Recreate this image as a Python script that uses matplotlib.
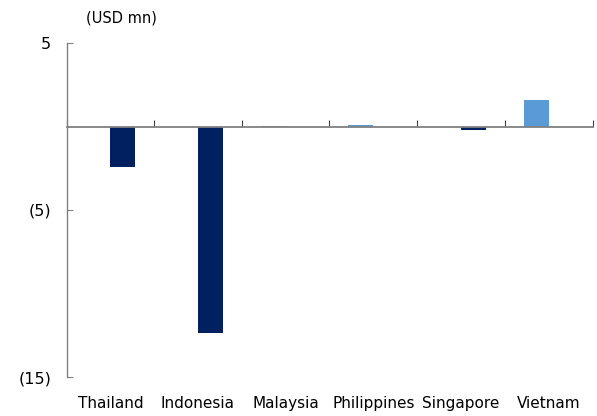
import matplotlib.pyplot as plt
import numpy as np

# Dados
paises = ['Thailand', 'Indonesia', 'Malaysia', 'Philippines', 'Singapore', 'Vietnam']
valores_pos = [0.0, 0.0, 0.03, 0.09, 0.0, 1.6]
valores_neg = [-2.45, -12.35, 0.0, 0.0, -0.2, 0.0]
y_ticks = [5, -5, -15]
y_labels = ['5', '(5)', '(15)']

cor_pos = '#5B9BD5'
cor_neg = '#002060'
cor_eixo = '#808080'

fig = plt.figure(figsize=(5.97, 4.16), dpi=100)
ax = fig.add_axes([66.5 / 597, 1 - 377 / 416, 526 / 597, 334 / 416])

x = np.arange(len(paises))
largura = 0.285
ax.bar(x - largura / 2, valores_pos, largura, color=cor_pos, zorder=2)
ax.bar(x + largura / 2, valores_neg, largura, color=cor_neg, zorder=2)

ax.set_xlim(-0.5, len(paises) - 0.5)
ax.set_ylim(-15, 5)

# Eixo y
for lado in ['top', 'right']:
    ax.spines[lado].set_visible(False)
ax.spines['left'].set_color(cor_eixo)
ax.spines['left'].set_linewidth(1.0)
ax.set_yticks(y_ticks)
ax.set_yticklabels(y_labels)
ax.tick_params(axis='y', direction='in', length=4, color=cor_eixo,
               labelsize=11.5, pad=11)

# Linha do zero com marcas entre categorias
ax.spines['bottom'].set_position(('data', 0))
ax.spines['bottom'].set_color(cor_eixo)
ax.spines['bottom'].set_linewidth(1.3)
ax.spines['bottom'].set_zorder(3)
ax.set_xticks(np.arange(len(paises) + 1) - 0.5)
ax.tick_params(axis='x', direction='in', length=5, color='#404040',
               labelbottom=False)

# Rotulos das categorias embaixo
sec = ax.secondary_xaxis('bottom')
sec.set_xticks(x)
sec.set_xticklabels(paises)
sec.spines['bottom'].set_visible(False)
sec.tick_params(length=0, labelsize=11, pad=14)

fig.text(121 / 597, 1 - 18 / 416, '(USD mn)', ha='center', va='center', fontsize=10.5)

plt.savefig('out.png', dpi=100, facecolor='white')
